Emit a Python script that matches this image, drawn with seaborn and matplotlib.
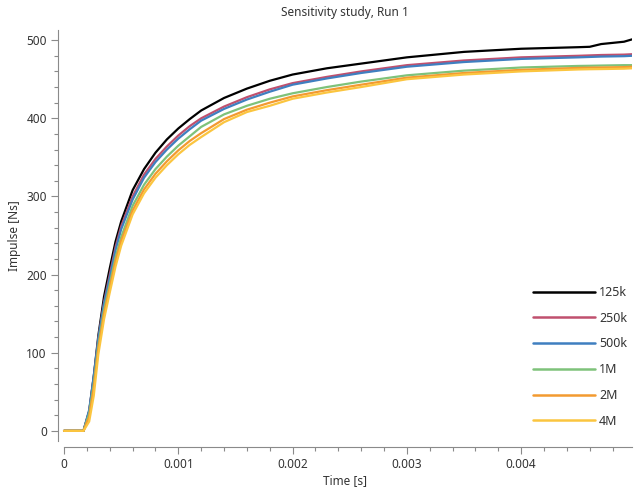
import pandas as pd
import seaborn as sns
import matplotlib.pyplot as plt
from matplotlib.ticker import MultipleLocator, FuncFormatter

time_s = [0, 0.00017, 0.00022, 0.00026, 0.0003, 0.00035, 0.0004, 0.00045, 0.0005, 0.0006,
          0.0007, 0.0008, 0.0009, 0.001, 0.0011, 0.0012, 0.0014, 0.0016, 0.0018, 0.002,
          0.0023, 0.0026, 0.003, 0.0035, 0.004, 0.0045, 0.0046, 0.0047, 0.0049, 0.00497]

impulse_125k = [0, 0, 25, 70, 122, 172, 208, 242, 268, 308,
                335, 356, 373, 387, 399, 410, 426, 438, 448, 456,
                464, 470, 478, 485, 489, 491, 491.5, 495, 498, 501]
impulse_250k = [0, 0, 25, 68, 118, 165, 200, 235, 262, 300,
                328, 348, 364, 378, 390, 400, 415, 427, 437, 445,
                453, 460, 468, 474, 478, 480, 480.5, 481, 481.5, 482]
impulse_500k = [0, 0, 27, 70, 118, 163, 196, 231, 258, 296,
                324, 344, 360, 374, 386, 397, 412, 424, 434, 443,
                451, 458, 466, 472, 476, 478, 478.5, 479, 479.5, 480]
impulse_1M = [0, 0, 22, 60, 110, 155, 188, 222, 248, 288,
              315, 335, 351, 365, 377, 389, 405, 416, 425, 432,
              440, 447, 455, 461, 465, 467, 467.2, 467.5, 468, 468]
impulse_2M = [0, 0, 18, 55, 105, 150, 183, 217, 243, 282,
              309, 329, 345, 359, 371, 381, 399, 411, 420, 428,
              436, 443, 452, 458, 462, 464.5, 464.8, 465, 465.5, 466]
impulse_4M = [0, 0, 12, 45, 98, 143, 177, 210, 237, 277,
              304, 324, 340, 354, 366, 376, 395, 408, 416, 425,
              433, 440, 450, 456, 460, 462.5, 462.8, 463, 463.5, 464]

labels = ["125k", "250k", "500k", "1M", "2M", "4M"]
series = [impulse_125k, impulse_250k, impulse_500k, impulse_1M, impulse_2M, impulse_4M]
colors = ["#000000", "#c0506e", "#3f7fc0", "#7ec27a", "#f39a30", "#fbc53f"]

frames = []
for name, vals in zip(labels, series):
    frames.append(pd.DataFrame({"time": time_s, "impulse": vals, "mesh": name}))
df = pd.concat(frames, ignore_index=True)

sns.set_style("ticks")
plt.rcParams["font.family"] = ["Noto Sans", "DejaVu Sans"]

fig = plt.figure(figsize=(6.34, 4.9), dpi=100)
ax = fig.add_axes([58 / 634, 1 - 441 / 490, 574 / 634, 411 / 490])

sns.lineplot(data=df, x="time", y="impulse", hue="mesh", hue_order=labels,
             palette=colors, linewidth=1.6, ax=ax)

ax.set_xlim(-0.000053, 0.00497)
ax.set_ylim(-13, 513)
ax.xaxis.set_major_locator(MultipleLocator(0.001))
ax.xaxis.set_minor_locator(MultipleLocator(0.0002))
ax.yaxis.set_major_locator(MultipleLocator(100))
ax.yaxis.set_minor_locator(MultipleLocator(20))
ax.xaxis.set_major_formatter(FuncFormatter(lambda v, p: "0" if abs(v) < 1e-12 else f"{v:g}"))

grey = "#8a8a8a"
for side in ["top", "right"]:
    ax.spines[side].set_visible(False)
for side in ["left", "bottom"]:
    ax.spines[side].set_color(grey)
    ax.spines[side].set_linewidth(0.8)
ax.spines["bottom"].set_position(("outward", 4.5))
ax.spines["bottom"].set_bounds(0, 0.00497)

ax.tick_params(which="major", length=5, width=0.8, color=grey, labelsize=8.5,
               labelcolor="#333333", pad=3)
ax.tick_params(which="minor", length=3, width=0.8, color=grey)

ax.set_xlabel("Time [s]", fontsize=8.5, color="#333333", labelpad=2)
ax.set_ylabel("Impulse [Ns]", fontsize=8.5, color="#333333", labelpad=4)
ax.set_title("Sensitivity study, Run 1", fontsize=8.5, color="#333333", pad=10)

leg = ax.legend(loc="lower right", bbox_to_anchor=(1.011, 0.005), frameon=False,
                fontsize=9, handlelength=5.0, handletextpad=0.3, labelspacing=1.02,
                borderaxespad=0.5)
for t in leg.get_texts():
    t.set_color("#333333")
for line in leg.get_lines():
    line.set_linewidth(1.8)

fig.savefig("out.png", dpi=100)
